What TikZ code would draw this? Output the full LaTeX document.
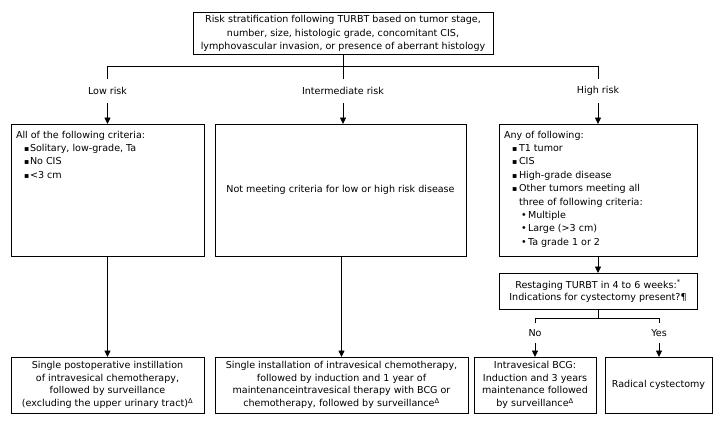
\documentclass[tikz,border=0pt]{standalone}
\usepackage{fontspec}
\setmainfont{DejaVu Sans}
\usetikzlibrary{arrows.meta}
\newcommand\sqbul{\makebox[14bp][l]{\hspace{8bp}\raisebox{0.3bp}{\scalebox{0.8}{▪}}}}
\newcommand\sqbulR{\makebox[15bp][l]{\hspace{8bp}\raisebox{0.3bp}{\scalebox{0.8}{▪}}}}
\newcommand\rdbul{\makebox[24bp][l]{\hspace{17bp}•}}
\newcommand\indentR{\hspace*{15bp}}
\begin{document}
\begin{tikzpicture}[x=1bp,y=-1bp,
  font=\fontsize{9.6}{13.4}\selectfont,
  ln/.style={line width=0.8bp},
  box/.style={draw, line width=0.8bp, inner sep=0pt, outer sep=0pt, align=center},
  lbl/.style={inner sep=0pt, outer sep=0pt, minimum height=24bp},
  lbls/.style={inner sep=0pt, outer sep=0pt, minimum height=20bp},
  arr/.style={ln, -{Triangle[length=6.5bp,width=6bp]}},
  txt/.style={inner sep=0pt, outer sep=0pt, align=left, anchor=north west}]
\useasboundingbox (0,0) rectangle (724,426);

% top box
\node[box, minimum width=300bp, minimum height=42bp] (top) at (343,33.5)
  {Risk stratification following TURBT based on tumor stage,\\
   number, size, histologic grade, concomitant CIS,\\
   lymphovascular invasion, or presence of aberrant histology};

% risk labels
\node[lbl] (lowlbl) at (107.5,91) {Low risk};
\node[lbl] (intlbl) at (343,91) {Intermediate risk};
\node[lbl] (highlbl) at (598,91) {High risk};
\coordinate (busL) at (107.5,66);
\coordinate (busR) at (598,66);

% second row boxes
\node[box, minimum width=193bp, minimum height=132bp] (lowbox) at (107.5,190) {};
\node[txt] (lowtxt) at (16,131)
  {All of the following criteria:\\
   \sqbul Solitary, low-grade, Ta\\
   \sqbul No CIS\\
   \sqbul <3 cm};

\node[box, minimum width=251bp, minimum height=132bp] (intbox) at (340.5,190)
  {Not meeting criteria for low or high risk disease};

\node[box, minimum width=198bp, minimum height=132bp] (highbox) at (598,190) {};
\node[txt] (hightxt) at (504,131)
  {Any of following:\\
   \sqbulR T1 tumor\\
   \sqbulR CIS\\
   \sqbulR High-grade disease\\
   \sqbulR Other tumors meeting all\\
   \indentR three of following criteria:\\
   \rdbul Multiple\\
   \rdbul Large (>3 cm)\\
   \rdbul Ta grade 1 or 2};

% restaging
\node[box, minimum width=198bp, minimum height=36bp, font=\fontsize{9.6}{12.5}\selectfont] (restage) at (598,291)
  {Restaging TURBT in 4 to 6 weeks:\textsuperscript{*}\\
   Indications for cystectomy present?¶};
\node[lbls] (nolbl) at (535,333) {No};
\node[lbls] (yeslbl) at (659,333) {Yes};
\coordinate (busN) at (535,318);
\coordinate (busY) at (659,318);
\coordinate (busM) at (598,318);

% bottom boxes
\node[box, minimum width=193bp, minimum height=56bp, font=\fontsize{9.6}{12.7}\selectfont] (lowbot) at (107.5,385)
  {Single postoperative instillation\\
   of intravesical chemotherapy,\\
   followed by surveillance\\
   (excluding the upper urinary tract)\textsuperscript{Δ}};
\node[box, minimum width=253bp, minimum height=56bp, font=\fontsize{9.6}{12.7}\selectfont] (intbot) at (341.5,385)
  {Single installation of intravesical chemotherapy,\\
   followed by induction and 1 year of\\
   maintenanceintravesical therapy with BCG or\\
   chemotherapy, followed by surveillance\textsuperscript{Δ}};
\node[box, minimum width=122bp, minimum height=56bp, font=\fontsize{9.6}{12.7}\selectfont] (bcg) at (535,385)
  {Intravesical BCG:\\
   Induction and 3 years\\
   maintenance followed\\
   by surveillance\textsuperscript{Δ}};
\node[box, minimum width=107bp, minimum height=56bp] (radical) at (658.5,385)
  {Radical cystectomy};

% connectors
\draw[ln] (top.south) -- (intlbl.north);
\draw[ln] (lowlbl.north) -- (busL) -- (busR) -- (highlbl.north);
\draw[arr] (lowlbl.south) -- (lowbox.north);
\draw[arr] (intlbl.south) -- (intlbl.south |- intbox.north);
\draw[arr] (highlbl.south) -- (highbox.north);
\draw[arr] (lowbox.south) -- (lowbot.north);
\draw[arr] (intbox.south -| intbot.north) -- (intbot.north);
\draw[arr] (highbox.south) -- (restage.north);
\draw[ln] (restage.south) -- (busM);
\draw[ln] (nolbl.north) -- (busN) -- (busY) -- (yeslbl.north);
\draw[arr] (nolbl.south) -- (nolbl.south |- bcg.north);
\draw[arr] (yeslbl.south) -- (yeslbl.south |- radical.north);
\end{tikzpicture}
\end{document}
